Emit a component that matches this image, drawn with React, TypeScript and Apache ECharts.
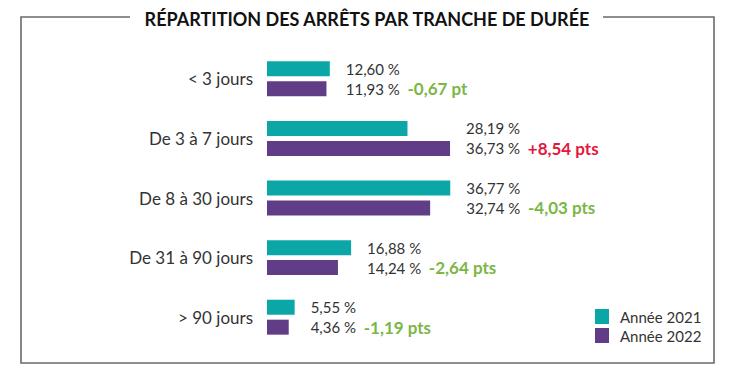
import React, { useEffect, useRef } from "react";
import * as echarts from "echarts";

const categories = ["< 3 jours", "De 3 à 7 jours", "De 8 à 30 jours", "De 31 à 90 jours", "> 90 jours"];
const values2021 = [12.6, 28.19, 36.77, 16.88, 5.55];
const values2022 = [11.93, 36.73, 32.74, 14.24, 4.36];
const seriesNames = ["Année 2021", "Année 2022"];
const titleText = "RÉPARTITION DES ARRÊTS PAR TRANCHE DE DURÉE";

const TEAL = "#0aa7a6";
const PURPLE = "#613d87";
const GREEN = "#7bb646";
const RED = "#e4173d";
const FONT = "Lato";

const fmt = (v: number) => v.toFixed(2).replace(".", ",");
const groupMax = categories.map((_, i) => Math.max(values2021[i], values2022[i]));

export default function App() {
  const ref = useRef<HTMLDivElement>(null);
  useEffect(() => {
    document.body.style.margin = "0";
    const chart = echarts.init(ref.current!, null, { renderer: "svg" });
    const pad2021 = values2021.map((v, i) => +(groupMax[i] - v).toFixed(4));
    const pad2022 = values2022.map((v, i) => +(groupMax[i] - v).toFixed(4));
    const barCommon = { barWidth: 15, barGap: "33%" };
    chart.setOption({
      animation: false,
      textStyle: { fontFamily: FONT },
      grid: { left: 267, top: 49, bottom: 34, right: 174, containLabel: false },
      xAxis: { type: "value", min: 0, max: 60, show: false },
      yAxis: {
        type: "category",
        inverse: true,
        data: categories,
        axisLine: { show: false },
        axisTick: { show: false },
        axisLabel: { fontSize: 17, color: "#333", margin: 14, fontFamily: FONT },
      },
      legend: {
        data: seriesNames,
        orient: "vertical",
        left: 590,
        top: 304,
        itemWidth: 14,
        itemHeight: 15,
        itemGap: 4,
        icon: "rect",
        textStyle: { fontSize: 15, color: "#333", fontFamily: FONT, padding: [0, 0, 0, 6] },
      },
      series: [
        { name: seriesNames[0], type: "bar", stack: "a", data: values2021, itemStyle: { color: TEAL }, ...barCommon },
        {
          name: "pad2021",
          type: "bar",
          stack: "a",
          data: pad2021,
          itemStyle: { color: "rgba(0,0,0,0)" },
          silent: true,
          ...barCommon,
          label: {
            show: true,
            position: "right",
            distance: 16,
            fontSize: 15,
            color: "#333",
            fontFamily: FONT,
            formatter: (p: any) => fmt(values2021[p.dataIndex]) + " %",
          },
        },
        { name: seriesNames[1], type: "bar", stack: "b", data: values2022, itemStyle: { color: PURPLE }, ...barCommon },
        {
          name: "pad2022",
          type: "bar",
          stack: "b",
          data: pad2022,
          itemStyle: { color: "rgba(0,0,0,0)" },
          silent: true,
          ...barCommon,
          label: {
            show: true,
            position: "right",
            distance: 16,
            fontSize: 15,
            color: "#333",
            fontFamily: FONT,
            formatter: (p: any) => {
              const i = p.dataIndex;
              const d = Math.round((values2022[i] - values2021[i]) * 100) / 100;
              const unit = Math.abs(d) < 1 ? "pt" : "pts";
              const txt = (d > 0 ? "+" : "") + fmt(d) + " " + unit;
              return "{v|" + fmt(values2022[i]) + " %}  {" + (d > 0 ? "r" : "g") + "|" + txt + "}";
            },
            rich: {
              v: { fontSize: 15, color: "#333", fontFamily: FONT },
              g: { fontSize: 17, color: GREEN, fontWeight: "bold", fontFamily: FONT },
              r: { fontSize: 17, color: RED, fontWeight: "bold", fontFamily: FONT },
            },
          },
        },
      ],
      graphic: [
        {
          type: "polyline",
          shape: { points: [[130, 17], [21, 17], [21, 363], [714, 363], [714, 17], [603, 17]] },
          style: { stroke: "#6a6a6a", lineWidth: 1.6, fill: null },
          silent: true,
        },
        {
          type: "text",
          x: 367,
          y: 19,
          style: {
            text: titleText,
            fontSize: 18,
            fontWeight: "bold",
            fontFamily: FONT,
            fill: "#111",
            align: "center",
            verticalAlign: "middle",
          },
        },
      ],
    });
    return () => chart.dispose();
  }, []);
  return <div ref={ref} style={{ width: 740, height: 381 }} />;
}
